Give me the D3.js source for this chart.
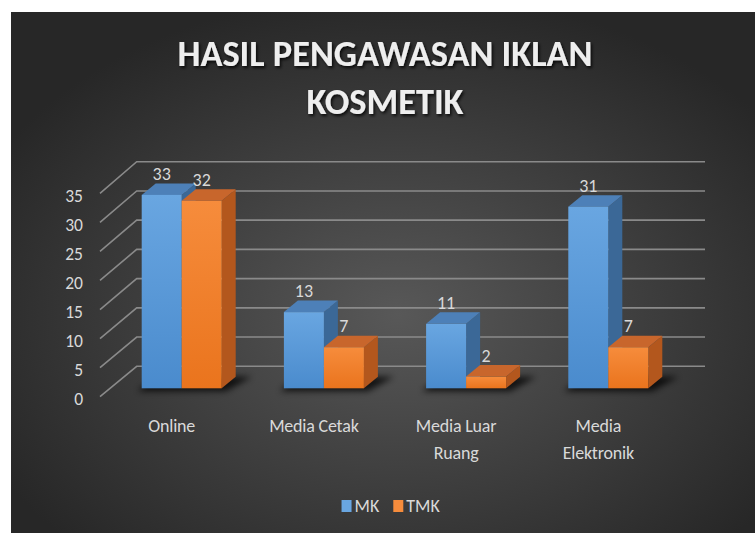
<!DOCTYPE html>
<html>
<head>
<meta charset="utf-8">
<script src="https://cdn.jsdelivr.net/npm/d3@7"></script>
<style>
  html, body { margin: 0; padding: 0; background: #fff; }
  svg { display: block; }
  text { font-family: Carlito, Calibri, Lato, sans-serif; }
</style>
</head>
<body>
<div id="chart"></div>
<script>
// chart values
const categories = ["Online", "Media Cetak", "Media Luar Ruang", "Media Elektronik"];
const categoryLines = [["Online"], ["Media Cetak"], ["Media Luar", "Ruang"], ["Media", "Elektronik"]];
const series = ["MK", "TMK"];
const mkValues = [33, 13, 11, 31];
const tmkValues = [32, 7, 2, 7];
const yTicks = [0, 5, 10, 15, 20, 25, 30, 35];
const titleLines = ["HASIL PENGAWASAN IKLAN", "KOSMETIK"];

const W = 755, H = 533;

const colors = {
  MK: { top: "#4d80b8", side: "#3b6897", light: "#69a6e1", dark: "#4a8bcd" },
  TMK: { top: "#c8662c", side: "#b3571d", light: "#f68c3c", dark: "#ea741d" },
};

const svg = d3.select("#chart").append("svg").attr("width", W).attr("height", H);
const defs = svg.append("defs");

// background radial gradient
const bg = defs.append("radialGradient").attr("id", "bg")
  .attr("cx", "52%").attr("cy", "58%").attr("r", "62%");
bg.append("stop").attr("offset", "0%").attr("stop-color", "#585858");
bg.append("stop").attr("offset", "100%").attr("stop-color", "#272727");

series.forEach((s) => {
  const g = defs.append("linearGradient").attr("id", `front-${s}`)
    .attr("x1", 0).attr("y1", 0).attr("x2", 0).attr("y2", 1);
  g.append("stop").attr("offset", "0%").attr("stop-color", colors[s].light);
  g.append("stop").attr("offset", "100%").attr("stop-color", colors[s].dark);
});

const blur = defs.append("filter").attr("id", "blur")
  .attr("x", "-30%").attr("y", "-100%").attr("width", "160%").attr("height", "300%");
blur.append("feGaussianBlur").attr("stdDeviation", 3);

const shadow = defs.append("filter").attr("id", "tshadow")
  .attr("x", "-10%").attr("y", "-30%").attr("width", "120%").attr("height", "160%");
shadow.append("feDropShadow").attr("dx", 1.5).attr("dy", 2).attr("stdDeviation", 1.6)
  .attr("flood-color", "#000").attr("flood-opacity", 0.8);

svg.append("rect").attr("x", 11).attr("y", 12).attr("width", W - 11).attr("height", H - 12)
  .attr("fill", "url(#bg)");

// title, sized so the first line fills its width in the reference
const title = svg.append("g").attr("filter", "url(#tshadow)");
const tLines = title.selectAll("text").data(titleLines).join("text")
  .attr("x", 385).attr("y", (d, i) => 66 + i * 48)
  .attr("text-anchor", "middle").attr("fill", "#eeeeee")
  .attr("font-weight", 600).attr("font-size", 30)
  .text((d) => d);
const natural = tLines.node().getComputedTextLength();
tLines.attr("font-size", 30 * 415 / natural);

// scales: bars, back wall and front edge sit on different planes
const x = d3.scaleBand().domain(categories).range([110.6, 679.4]);
const xs = d3.scaleBand().domain(series).range([-40, 40]);
const yBar = d3.scaleLinear().domain([0, 35]).range([388.3, 183.2]);
const yBack = d3.scaleLinear().domain([0, 35]).range([366.3, 161.7]);
const yFront = d3.scaleLinear().domain([0, 35]).range([396.7, 193.3]);
const depth = { dx: 14, dy: -11.5 };
const wall = { front: 100, back: 136.7, right: 705 };

// gridlines + side wall diagonals
const grid = svg.append("g").attr("stroke", "#8a8a8a").attr("stroke-width", 1.6).attr("fill", "none");
grid.selectAll("path").data(yTicks).join("path")
  .attr("d", (v) => `M${wall.front},${yFront(v)}L${wall.back},${yBack(v)}L${wall.right},${yBack(v)}`);

svg.append("g").selectAll("text").data(yTicks).join("text")
  .attr("x", 83).attr("y", (v) => yFront(v) + 2.5)
  .attr("dy", "0.35em").attr("text-anchor", "end")
  .attr("fill", "#d9d9d9").attr("font-size", 17.5)
  .text((v) => v);

const rows = categories.map((c, i) => ({ cat: c, MK: mkValues[i], TMK: tmkValues[i] }));
const cx = (c) => x(c) + x.bandwidth() / 2;
const bw = xs.bandwidth();

// floor shadows under each group
svg.append("g").selectAll("path").data(rows).join("path")
  .attr("filter", "url(#blur)").attr("fill", "#000").attr("opacity", 0.75)
  .attr("d", (d) => {
    const x0 = cx(d.cat) - 40, y0 = yBar(0);
    return `M${x0 - 4},${y0 + 3}L${x0 + 84},${y0 + 3}L${x0 + 80 + depth.dx + 16},${y0 + depth.dy}L${x0 + depth.dx},${y0 + depth.dy - 1}Z`;
  });

const bars = [];
rows.forEach((d) => series.forEach((s) => bars.push({ cat: d.cat, s: s, v: d[s] })));

const barG = svg.append("g").selectAll("g").data(bars).join("g");
barG.each(function (d) {
  const g = d3.select(this);
  const x0 = cx(d.cat) + xs(d.s), x1 = x0 + bw;
  const yt = yBar(d.v), yb = yBar(0);
  const { dx, dy } = depth;
  g.append("path").attr("fill", colors[d.s].side)
    .attr("d", `M${x1},${yt}L${x1 + dx},${yt + dy}L${x1 + dx},${yb + dy}L${x1},${yb}Z`);
  g.append("path").attr("fill", colors[d.s].top)
    .attr("d", `M${x0},${yt}L${x0 + dx},${yt + dy}L${x1 + dx},${yt + dy}L${x1},${yt}Z`);
  g.append("rect").attr("x", x0).attr("y", yt).attr("width", bw).attr("height", yb - yt)
    .attr("fill", `url(#front-${d.s})`);
});

// value labels
svg.append("g").selectAll("text").data(bars).join("text")
  .attr("x", (d) => cx(d.cat) + xs(d.s) + bw / 2)
  .attr("y", (d) => yBar(d.v) - 15)
  .attr("text-anchor", "middle").attr("fill", "#d9d9d9").attr("font-size", 18)
  .text((d) => d.v);

// category labels
const catG = svg.append("g").selectAll("text").data(categories).join("text")
  .attr("x", (c) => cx(c) - 10).attr("y", 432)
  .attr("text-anchor", "middle").attr("fill", "#d9d9d9").attr("font-size", 18)
  .attr("letter-spacing", -0.2);
catG.selectAll("tspan").data((c, i) => categoryLines[i]).join("tspan")
  .attr("x", function () { return d3.select(this.parentNode).attr("x"); })
  .attr("dy", (d, i) => (i === 0 ? 0 : 27))
  .text((d) => d);

// legend
const legend = svg.append("g");
let lx = 0;
series.forEach((s) => {
  legend.append("rect").attr("x", lx).attr("y", -6).attr("width", 10).attr("height", 12)
    .attr("fill", colors[s].light);
  const t = legend.append("text").attr("x", lx + 13).attr("y", 0).attr("dy", "0.35em")
    .attr("fill", "#d9d9d9").attr("font-size", 18).text(s);
  lx += 13 + t.node().getComputedTextLength() + 14;
});
const lw = legend.node().getBBox().width;
legend.attr("transform", `translate(${391 - lw / 2},506)`);
</script>
</body>
</html>
